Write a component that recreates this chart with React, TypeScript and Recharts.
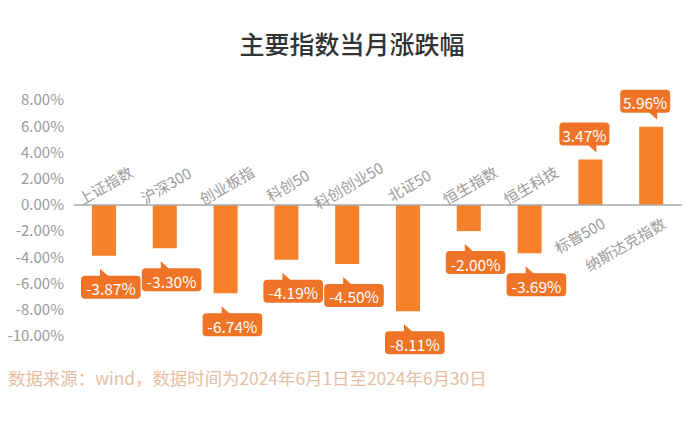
import React from "react";
import { BarChart, Bar, XAxis, YAxis, ReferenceLine, LabelList } from "recharts";

// 六月主要指数涨跌幅（%）
const categories = [
  "上证指数",
  "沪深300",
  "创业板指",
  "科创50",
  "科创创业50",
  "北证50",
  "恒生指数",
  "恒生科技",
  "标普500",
  "纳斯达克指数",
];
const changes = [-3.87, -3.3, -6.74, -4.19, -4.5, -8.11, -2.0, -3.69, 3.47, 5.96];
const yTicks = [-10, -8, -6, -4, -2, 0, 2, 4, 6, 8];

const TITLE = "主要指数当月涨跌幅";
const SOURCE = "数据来源：wind，数据时间为2024年6月1日至2024年6月30日";

const BAR = "#f7802a";
const TAG = "#f07427";
const AXIS_TEXT = "#9a9a9a";
const FONT = '"Noto Sans CJK SC", "Noto Sans", sans-serif';

const rows = categories.map((name, i) => ({ name, value: changes[i] }));

// Recharts hands negative bars either a negative height or a flipped y,
// so work out which edge sits on the zero line from the sign of the value.
function barEdges(props: any) {
  const vb = props.viewBox ?? props;
  const { x, y, width, height } = vb;
  const a = Math.min(y, y + height);
  const b = Math.max(y, y + height);
  const v = changes[props.index];
  return { cx: x + width / 2, zero: v < 0 ? a : b, end: v < 0 ? b : a, v };
}

function NameLabel(props: any) {
  const { cx, zero, v } = barEdges(props);
  const name = categories[props.index];
  // names sit on the opposite side of the zero line from their bar
  const neg = v < 0;
  const tx = neg ? cx + 1 : cx + 16;
  const ty = neg ? zero - 20 : zero + 22;
  return (
    <text
      x={tx}
      y={ty}
      transform={`rotate(-30 ${tx} ${ty})`}
      textAnchor={neg ? "middle" : "end"}
      dominantBaseline={neg ? "central" : "auto"}
      fill={AXIS_TEXT}
      fontSize={15}
      fontFamily={FONT}
    >
      {name}
    </text>
  );
}

function ValueTag(props: any) {
  const { cx, end, v } = barEdges(props);
  const text = `${v.toFixed(2)}%`;
  const w = text.length * 9.6 + 2;
  const h = 23;
  const neg = v < 0;
  const left = neg ? cx - 23 : cx + 19 - w;
  const top = neg ? end + 20 : end - 14 - h;
  const right = left + w;
  const bottom = top + h;
  // little callout notch pointing back at the bar
  const notch = neg
    ? `M${left + 19},${top + 1} L${left + 19},${top - 7} L${left + 28},${top + 1} Z`
    : `M${right - 22},${bottom - 1} L${right - 13},${bottom - 1} L${right - 13},${bottom + 7} Z`;
  return (
    <g>
      <path d={notch} fill={TAG} />
      <rect x={left} y={top} width={w} height={h} rx={4} fill={TAG} />
      <text
        x={left + w / 2}
        y={top + h / 2 + 1}
        textAnchor="middle"
        dominantBaseline="central"
        fill="#fff"
        fontSize={15.5}
        fontFamily={FONT}
      >
        {text}
      </text>
    </g>
  );
}

export default function App() {
  return (
    <div
      style={{
        position: "fixed",
        left: 0,
        top: 0,
        width: 700,
        height: 441,
        background: "#fff",
        fontFamily: FONT,
      }}
    >
      <div
        style={{
          position: "absolute",
          left: 0,
          top: 26,
          width: 704,
          textAlign: "center",
          fontSize: 25,
          fontWeight: 500,
          color: "#333",
          lineHeight: "34px",
        }}
      >
        {TITLE}
      </div>

      <div style={{ position: "absolute", left: 0, top: 0 }}>
        <BarChart
          width={700}
          height={441}
          data={rows}
          margin={{ top: 100, right: 18, bottom: 105, left: 0 }}
        >
          <XAxis dataKey="name" hide />
          <YAxis
            domain={[-10, 8]}
            ticks={yTicks}
            width={74}
            axisLine={false}
            tickLine={false}
            tickSize={0}
            tickMargin={10}
            interval={0}
            tickFormatter={(v: number) => `${v.toFixed(2)}%`}
            tick={{ fontSize: 15, fill: AXIS_TEXT, fontFamily: FONT }}
          />
          <ReferenceLine y={0} stroke="#a8a8a8" strokeWidth={1.5} />
          <Bar dataKey="value" fill={BAR} barSize={24} isAnimationActive={false}>
            <LabelList dataKey="name" content={NameLabel} />
            <LabelList dataKey="value" content={ValueTag} />
          </Bar>
        </BarChart>
      </div>

      <div
        style={{
          position: "absolute",
          left: 8,
          top: 366,
          fontSize: 17.4,
          color: "#e5bea4",
          lineHeight: "24px",
          whiteSpace: "nowrap",
        }}
      >
        {SOURCE}
      </div>
    </div>
  );
}
